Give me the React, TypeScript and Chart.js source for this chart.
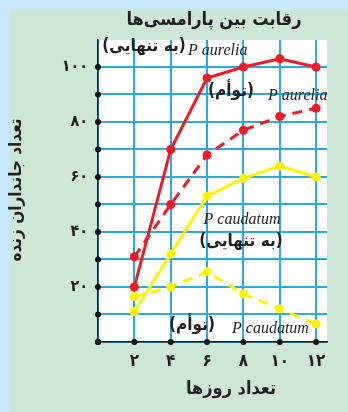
import React, { useEffect, useRef } from "react";
import { Chart, registerables } from "chart.js";

Chart.register(...registerables);

const days = [2, 4, 6, 8, 10, 12];
const aureliaAlone = [20, 70, 96, 100, 103, 100];
const aureliaMixed = [31, 50, 68, 77, 82, 85];
const caudatumAlone = [11, 32, 53, 59.5, 64, 60];
const caudatumMixed = [16.5, 20, 25.5, 17.5, 12, 6.5];

const titleText = "رقابت بین پارامسی‌ها";
const yTitleText = "تعداد جانداران زنده";
const xTitleText = "تعداد روزها";
const aloneText = "(به تنهایی)";
const mixedText = "(توأم)";
const aureliaName = "P aurelia";
const caudatumName = "P caudatum";

const RED = "#ed1c24";
const YELLOW = "#fff200";
const GRID = "#29abe2";
const FA = "'DejaVu Sans Condensed', 'DejaVu Sans', sans-serif";
const SERIF = "'Liberation Serif', 'DejaVu Serif', serif";

const faDigits = "۰۱۲۳۴۵۶۷۸۹";
const toFa = (n: number) =>
  String(n).replace(/[0-9]/g, (d) => faDigits[Number(d)]);

const pts = (arr: number[]) => days.map((d, i) => ({ x: d, y: arr[i] }));

function drawText(
  ctx: CanvasRenderingContext2D,
  text: string,
  x: number,
  y: number,
  font: string,
  align: CanvasTextAlign,
  rtl: boolean
) {
  ctx.save();
  ctx.font = font;
  ctx.fillStyle = "#231f20";
  ctx.textAlign = align;
  ctx.textBaseline = "middle";
  (ctx as any).direction = rtl ? "rtl" : "ltr";
  ctx.fillText(text, x, y);
  ctx.restore();
}

const bgPlugin = {
  id: "bgPlugin",
  beforeDraw(chart: any) {
    const { ctx, width, height, chartArea: a } = chart;
    ctx.save();
    ctx.fillStyle = "#c6e8f8";
    ctx.fillRect(0, 0, width, height);
    ctx.fillStyle = "#cde6d6";
    ctx.fillRect(9, 10, width - 9, height - 10);
    ctx.fillStyle = "#ffffff";
    ctx.fillRect(a.left, a.top, a.right - a.left, a.bottom - a.top);
    ctx.restore();
  },
  afterDatasetsDraw(chart: any) {
    const { ctx, chartArea: a } = chart;
    const xs = chart.scales.x;
    const ys = chart.scales.y;
    ctx.save();
    ctx.fillStyle = "#111";
    ys.ticks.forEach((t: any) => {
      ctx.beginPath();
      ctx.arc(a.left, ys.getPixelForValue(t.value), 3, 0, Math.PI * 2);
      ctx.fill();
    });
    xs.ticks.forEach((t: any) => {
      ctx.beginPath();
      ctx.arc(xs.getPixelForValue(t.value), a.bottom, 3, 0, Math.PI * 2);
      ctx.fill();
    });
    ctx.restore();

    const faBold = `bold 17px ${FA}`;
    const latin = `italic 16px ${SERIF}`;
    // titles
    drawText(ctx, titleText, 214, 20, `bold 18px ${FA}`, "center", true);
    drawText(ctx, xTitleText, 231, 389, `bold 18px ${FA}`, "center", true);
    ctx.save();
    ctx.translate(17, 190);
    ctx.rotate(-Math.PI / 2);
    drawText(ctx, yTitleText, 0, 0, `bold 17px ${FA}`, "center", true);
    ctx.restore();
    // annotations
    drawText(ctx, aloneText, 144, 47, faBold, "center", true);
    drawText(ctx, aureliaName, 188, 51, latin, "left", false);
    drawText(ctx, mixedText, 231, 92, faBold, "center", true);
    drawText(ctx, aureliaName, 268, 96, latin, "left", false);
    drawText(ctx, caudatumName, 242, 220, latin, "center", false);
    drawText(ctx, aloneText, 241, 242, faBold, "center", true);
    drawText(ctx, mixedText, 192, 326, faBold, "center", true);
    drawText(ctx, caudatumName, 232, 329, latin, "left", false);
  },
};

export default function App() {
  const ref = useRef<HTMLCanvasElement | null>(null);
  useEffect(() => {
    if (!ref.current) return;
    const mk = (label: string, arr: number[], color: string, dashed: boolean) => ({
      label,
      data: pts(arr),
      borderColor: color,
      backgroundColor: color,
      borderWidth: 3,
      borderDash: dashed ? [10, 7] : [],
      pointRadius: 4.5,
      pointBorderWidth: 0,
      pointBackgroundColor: color,
      tension: 0,
      fill: false,
    });
    const chart = new Chart(ref.current, {
      type: "line",
      data: {
        datasets: [
          mk("caudatum mixed", caudatumMixed, YELLOW, true),
          mk("caudatum alone", caudatumAlone, YELLOW, false),
          mk("aurelia mixed", aureliaMixed, RED, true),
          mk("aurelia alone", aureliaAlone, RED, false),
        ] as any,
      },
      options: {
        animation: false,
        responsive: false,
        devicePixelRatio: 1,
        layout: { padding: { top: 40, right: 21, left: 0, bottom: 0 } },
        plugins: { legend: { display: false }, tooltip: { enabled: false }, title: { display: false } },
        scales: {
          x: {
            type: "linear",
            min: 0,
            max: 12.6,
            grid: { color: GRID, lineWidth: 2, drawTicks: false },
            border: { display: true, color: "#231f20", width: 1.5 },
            ticks: {
              stepSize: 2,
              includeBounds: false,
              autoSkip: false,
              maxRotation: 0,
              padding: 9,
              color: "#231f20",
              font: { family: FA, weight: "bold", size: 17 },
              callback: (v: any) => (v === 0 ? "" : toFa(v)),
            },
            afterFit: (s: any) => {
              s.height = 70;
            },
          },
          y: {
            type: "linear",
            min: 0,
            max: 109.8,
            grid: { color: GRID, lineWidth: 2, drawTicks: false },
            border: { display: true, color: "#231f20", width: 1.5 },
            ticks: {
              stepSize: 10,
              includeBounds: false,
              autoSkip: false,
              padding: 10,
              color: "#231f20",
              font: { family: FA, weight: "bold", size: 16 },
              callback: (v: any) => (v > 0 && v % 20 === 0 ? toFa(v) : ""),
            },
            afterFit: (s: any) => {
              s.width = 98;
            },
          },
        },
      } as any,
      plugins: [bgPlugin],
    });
    return () => chart.destroy();
  }, []);
  return (
    <div style={{ position: "absolute", left: 0, top: 0, width: 348, height: 412 }}>
      <canvas ref={ref} width={348} height={412} style={{ display: "block" }} />
    </div>
  );
}
